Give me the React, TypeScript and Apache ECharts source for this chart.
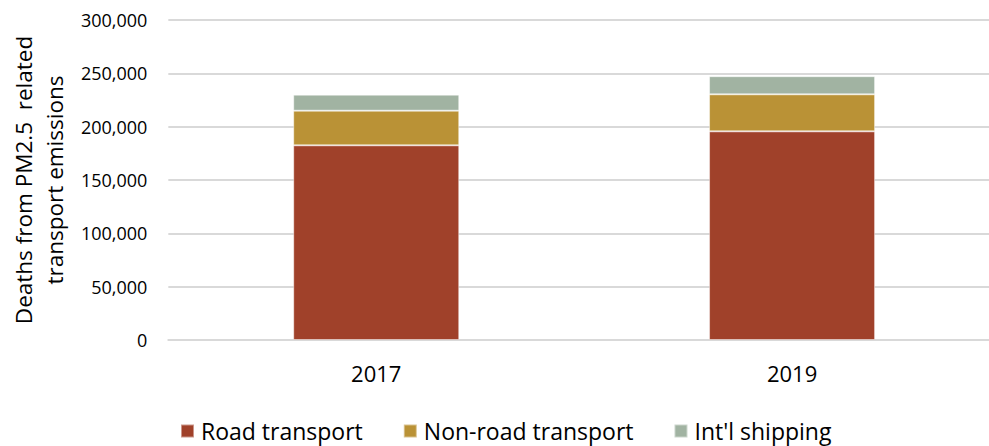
import React, { useEffect, useRef } from "react";
import * as echarts from "echarts";

const categories = ["2017", "2019"];
const roadTransport = [182500, 195600];
const nonRoadTransport = [32500, 34700];
const intlShipping = [15000, 17000];
const seriesNames = ["Road transport", "Non-road transport", "Int'l shipping"];
const colors = ["#A0412A", "#BA9236", "#A1B3A2"];

const FONT = "'Open Sans', sans-serif";

export default function App() {
  const ref = useRef<HTMLDivElement>(null);
  useEffect(() => {
    if (!ref.current) return;
    const chart = echarts.init(ref.current, undefined, { renderer: "svg" });
    const dataSets = [roadTransport, nonRoadTransport, intlShipping];
    chart.setOption({
      animation: false,
      grid: { left: 168, top: 20, right: 0, bottom: 106, containLabel: false },
      legend: {
        left: 180,
        top: 419,
        itemWidth: 13,
        itemHeight: 13,
        itemGap: 40,
        icon: "rect",
        padding: 0,
        textStyle: { fontFamily: FONT, fontSize: 23, color: "#000", lineHeight: 24, padding: [0, 0, 0, 2] },
        data: seriesNames,
      },
      xAxis: {
        type: "category",
        data: categories,
        axisLine: { show: true, lineStyle: { color: "#d9d9d9", width: 2 } },
        axisTick: { show: false },
        axisLabel: { fontFamily: FONT, fontSize: 22, color: "#000", margin: 22 },
      },
      yAxis: {
        type: "value",
        min: 0,
        max: 300000,
        interval: 50000,
        name: "Deaths from PM2.5  related\ntransport emissions",
        nameLocation: "middle",
        nameRotate: 90,
        nameGap: 98,
        nameTextStyle: { fontFamily: FONT, fontSize: 22.5, color: "#000", lineHeight: 31 },
        axisLine: { show: false },
        axisTick: { show: false },
        splitLine: { lineStyle: { color: "#d9d9d9", width: 2 } },
        axisLabel: {
          fontFamily: FONT,
          fontSize: 18,
          color: "#000",
          margin: 21,
          formatter: (v: number) => v.toLocaleString("en-US"),
        },
      },
      series: seriesNames.map((name, i) => ({
        name,
        type: "bar",
        stack: "total",
        barWidth: 166,
        data: dataSets[i],
        itemStyle: { color: colors[i], borderColor: "rgba(255,255,255,0.45)", borderWidth: 1 },
      })),
    });
    return () => chart.dispose();
  }, []);
  return (
    <div style={{ width: 989, height: 446, position: "absolute", left: 0, top: 0, overflow: "hidden" }}>
      <div ref={ref} style={{ width: 1000, height: 446 }} />
    </div>
  );
}
